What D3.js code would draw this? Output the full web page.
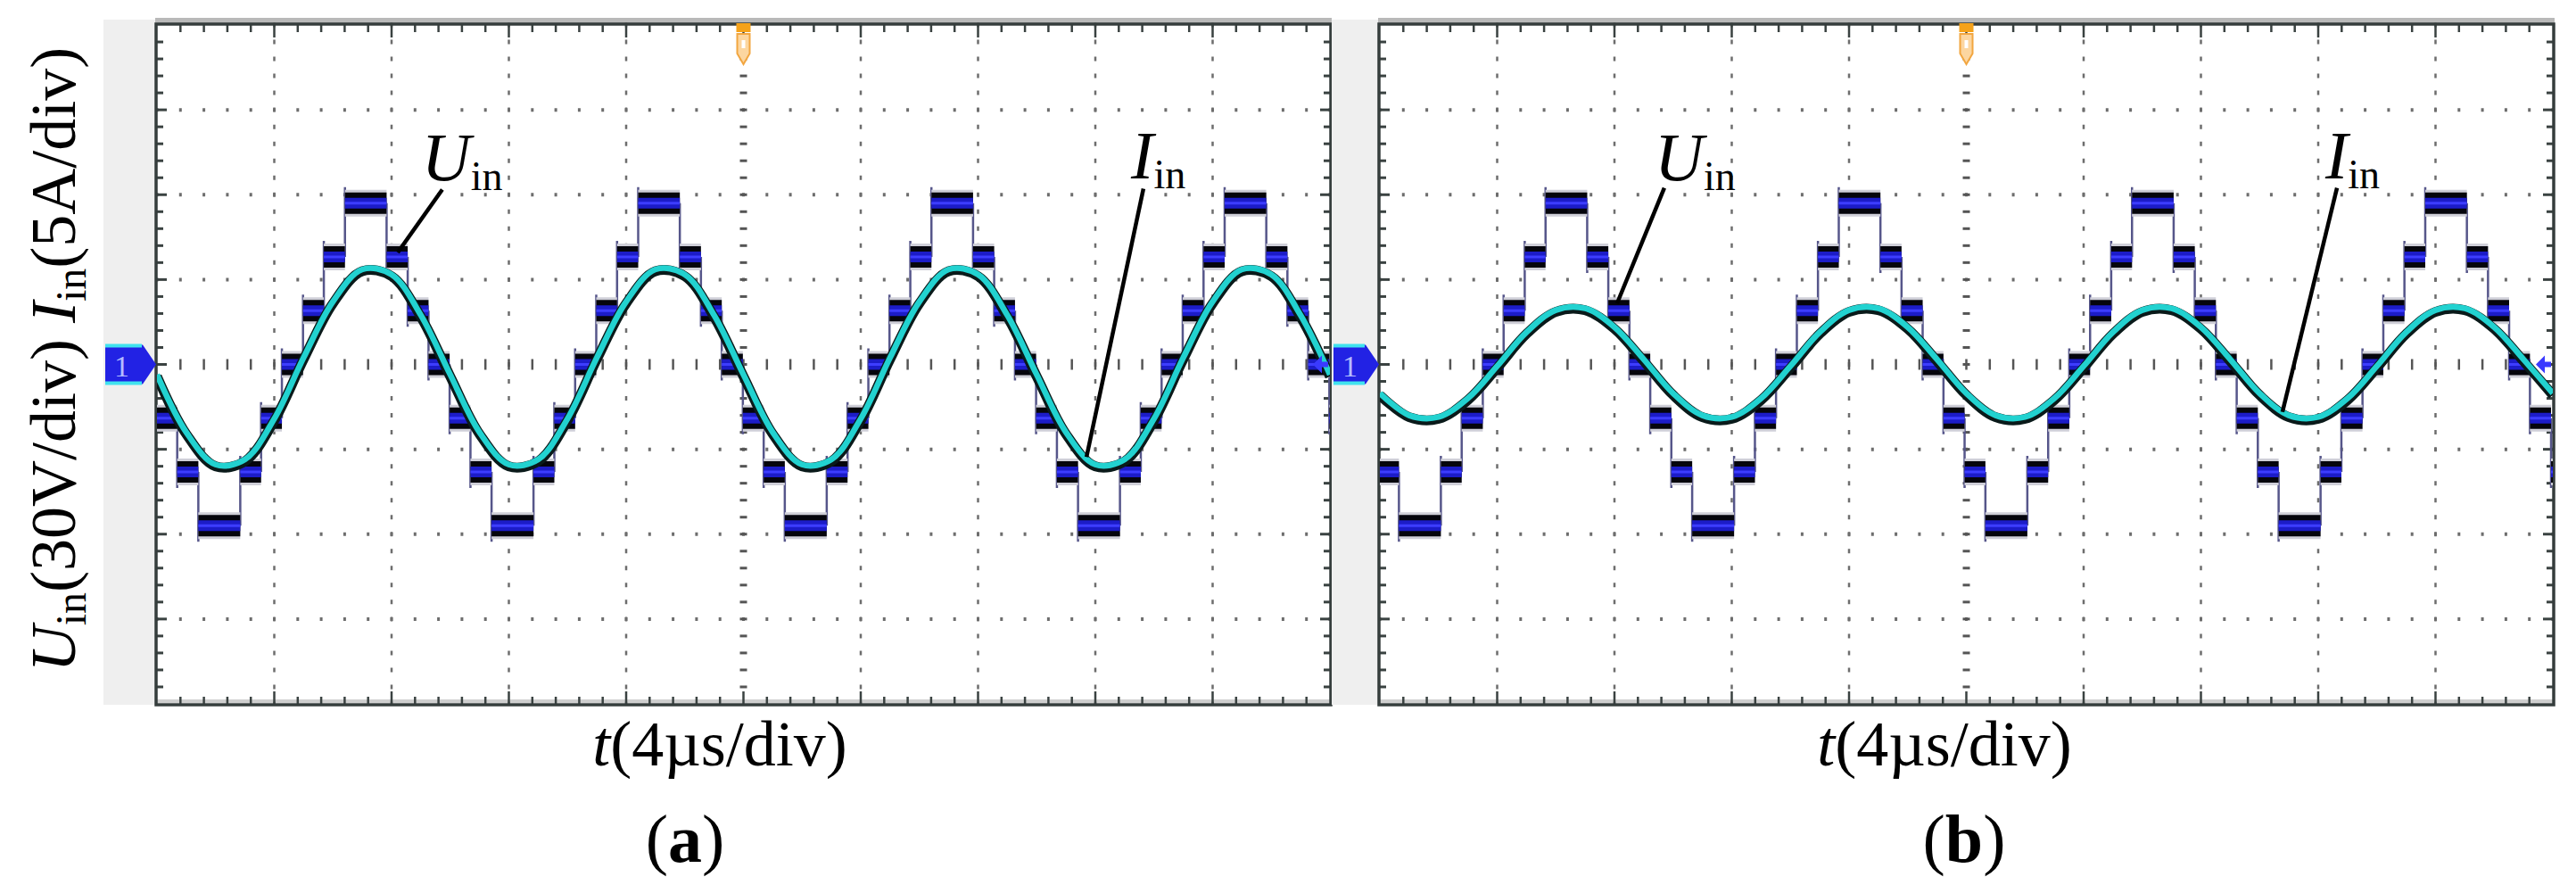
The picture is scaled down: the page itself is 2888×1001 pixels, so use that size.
<!DOCTYPE html>
<html>
<head>
<meta charset="utf-8">
<script src="https://cdn.jsdelivr.net/npm/d3@7"></script>
<style>
  html, body { margin: 0; padding: 0; background: #fff; }
  svg { display: block; }
  text { font-family: "Liberation Serif", "DejaVu Serif", serif; fill: #000; }
</style>
</head>
<body>
<svg id="chart" width="2888" height="1001"></svg>
<script>
// scope screen: 10 div x 4 us, 8 div x 30 V (or 5 A)
var timeSpan = [0, 40];
var voltSpan = [-120, 120];
var ampSpan = [-20, 20];

// staircase input voltage, (a) : switching instants (us) and levels (V)
var stepTimesA = [0, 0.69, 1.41, 2.84, 3.55, 4.26, 4.98, 5.69,
  6.41, 7.83, 8.55, 9.26, 9.98, 10.69, 11.41, 12.84, 13.55, 14.26, 14.98, 15.69,
  16.41, 17.83, 18.55, 19.26, 19.98, 20.69, 21.41, 22.84, 23.55, 24.26, 24.98, 25.69,
  26.41, 27.83, 28.55, 29.26, 29.98, 30.69, 31.41, 32.84, 33.55, 34.26, 34.98, 35.69,
  36.41, 37.83, 38.55, 39.26, 39.98];
var stepVoltsA = [-19, -38, -57, -38, -19, 0, 19, 38,
  57, 38, 19, 0, -19, -38, -57, -38, -19, 0, 19, 38,
  57, 38, 19, 0, -19, -38, -57, -38, -19, 0, 19, 38,
  57, 38, 19, 0, -19, -38, -57, -38, -19, 0, 19, 38,
  57, 38, 19, 0, -19];

// staircase input voltage, (b)
var stepTimesB = [0, 0.65,
  2.08, 2.79, 3.51, 4.22, 4.94, 5.65, 7.07, 7.79, 8.51, 9.22, 9.94, 10.65,
  12.08, 12.79, 13.51, 14.22, 14.94, 15.65, 17.07, 17.79, 18.51, 19.22, 19.94, 20.65,
  22.08, 22.79, 23.51, 24.22, 24.94, 25.65, 27.07, 27.79, 28.51, 29.22, 29.94, 30.65,
  32.08, 32.79, 33.51, 34.22, 34.94, 35.65, 37.07, 37.79, 38.51, 39.22, 39.94];
var stepVoltsB = [-38, -57,
  -38, -19, 0, 19, 38, 57, 38, 19, 0, -19, -38, -57,
  -38, -19, 0, 19, 38, 57, 38, 19, 0, -19, -38, -57,
  -38, -19, 0, 19, 38, 57, 38, 19, 0, -19, -38, -57,
  -38, -19, 0, 19, 38, 57, 38, 19, 0, -19, -38];

// input current samples (A), read every 1 us
var sampleTimes = [0, 1, 2, 3, 4, 5, 6, 7, 8, 9, 10, 11, 12, 13, 14, 15, 16, 17, 18, 19, 20,
  21, 22, 23, 24, 25, 26, 27, 28, 29, 30, 31, 32, 33, 34, 35, 36, 37, 38, 39, 40];
var currentA = [-0.6, -4.0, -5.9, -5.6, -3.2, 0.4, 3.7, 5.6, 5.3, 2.9,
  -0.6, -4.0, -5.9, -5.6, -3.2, 0.4, 3.7, 5.6, 5.3, 2.9,
  -0.6, -4.0, -5.9, -5.6, -3.2, 0.4, 3.7, 5.6, 5.3, 2.9,
  -0.6, -4.0, -5.9, -5.6, -3.2, 0.4, 3.7, 5.6, 5.3, 2.9, -0.6];
var currentB = [-1.7, -3.0, -3.1, -2.0, -0.1, 1.9, 3.2, 3.3, 2.2, 0.3,
  -1.7, -3.0, -3.1, -2.0, -0.1, 1.9, 3.2, 3.3, 2.2, 0.3,
  -1.7, -3.0, -3.1, -2.0, -0.1, 1.9, 3.2, 3.3, 2.2, 0.3,
  -1.7, -3.0, -3.1, -2.0, -0.1, 1.9, 3.2, 3.3, 2.2, 0.3, -1.7];

var axisTitle = '(4µs/div)';
var panelNames = ['a', 'b'];

/*************************************************************************/

function Scope(svg, opts){
    this.svg = svg;
    this.opts = opts;
    this.left = opts.left;
    this.top = 28;
    this.width = 1315;
    this.height = 761;
    this.create();
}

Scope.prototype.create = function(){
    this.xScale = d3.scaleLinear().domain(timeSpan).range([this.left, this.left + this.width]);
    this.yScale = d3.scaleLinear().domain([-4, 4]).range([this.top + this.height, this.top]);
    this.vScale = d3.scaleLinear().domain(voltSpan).range([this.top + this.height, this.top]);
    this.aScale = d3.scaleLinear().domain(ampSpan).range([this.top + this.height, this.top]);

    this.g = this.svg.append('g');
    this.g.append('clipPath').attr('id', 'clip-' + this.opts.name)
        .append('rect')
        .attr('x', this.left).attr('y', this.top)
        .attr('width', this.width).attr('height', this.height);

    this.drawFrame();
    this.drawGrid();
    this.drawTraces();
    this.drawMarkers();
    this.drawNotes();
    this.drawLabels();
}

Scope.prototype.drawFrame = function(){
    var x0 = this.left, y0 = this.top, w = this.width, h = this.height;
    // grey strip holding the channel marker
    this.g.append('rect')
        .attr('x', x0 - this.opts.strip).attr('y', 22)
        .attr('width', this.opts.strip - 2).attr('height', 768)
        .attr('fill', '#efefef');
    this.g.append('rect')
        .attr('x', x0 - 2).attr('y', 20).attr('width', w + 4).attr('height', 6)
        .attr('fill', '#b9b9b9');
    this.g.append('rect')
        .attr('x', x0 - 2).attr('y', y0 + h - 5).attr('width', w + 4).attr('height', 4)
        .attr('fill', '#cfcfcf');
}

Scope.prototype.drawGrid = function(){
    var xs = this.xScale, ys = this.yScale;
    var x0 = this.left, y0 = this.top, w = this.width, h = this.height;
    var grid = this.g.append('g');
    var py = h / 40, px = w / 50;

    var majorT = d3.range(1, 10).map(function(i){ return i * 4; });
    var majorD = [-3, -2, -1, 1, 2, 3];
    var minorT = d3.range(1, 50).map(function(i){ return i * 0.8; });
    var minorD = d3.range(1, 40).map(function(i){ return -4 + i * 0.2; });

    grid.selectAll('.vgrid').data(majorT.filter(function(t){ return t != 20; })).enter().append('line')
        .attr('x1', function(d){ return xs(d); }).attr('x2', function(d){ return xs(d); })
        .attr('y1', y0 - 2.5).attr('y2', y0 + h)
        .attr('stroke', '#6d6d6d').attr('stroke-width', 2.5)
        .attr('stroke-dasharray', '5,' + (py - 5));

    grid.selectAll('.hgrid').data(majorD).enter().append('line')
        .attr('x1', x0 - 1.5).attr('x2', x0 + w)
        .attr('y1', function(d){ return ys(d); }).attr('y2', function(d){ return ys(d); })
        .attr('stroke', '#6d6d6d').attr('stroke-width', 4)
        .attr('stroke-dasharray', '3,' + (px - 3));

    // centre axes with their ticks
    grid.selectAll('.cx').data(minorT).enter().append('line')
        .attr('x1', function(d){ return xs(d); }).attr('x2', function(d){ return xs(d); })
        .attr('y1', ys(0) - 6).attr('y2', ys(0) + 6)
        .attr('stroke', '#555').attr('stroke-width', 2.5);
    grid.selectAll('.cy').data(minorD).enter().append('line')
        .attr('x1', xs(20) - 4).attr('x2', xs(20) + 4)
        .attr('y1', function(d){ return ys(d); }).attr('y2', function(d){ return ys(d); })
        .attr('stroke', '#555').attr('stroke-width', 3);

    // border ticks
    var ticks = this.g.append('g').attr('stroke', '#3a4241');
    [y0, y0 + h].forEach(function(yy, k){
        var s = k == 0 ? 1 : -1;
        ticks.selectAll('.tb' + k).data(minorT).enter().append('line')
            .attr('x1', function(d){ return xs(d); }).attr('x2', function(d){ return xs(d); })
            .attr('y1', yy).attr('y2', function(d){ return yy + s * (d % 4 == 0 ? 14 : 8); })
            .attr('stroke-width', 2.5);
    });
    [x0, x0 + w].forEach(function(xx, k){
        var s = k == 0 ? 1 : -1;
        ticks.selectAll('.tl' + k).data(minorD).enter().append('line')
            .attr('x1', xx).attr('x2', function(d){ return xx + s * (Math.abs(d % 1) < 0.01 ? 11 : 7); })
            .attr('y1', function(d){ return ys(d); }).attr('y2', function(d){ return ys(d); })
            .attr('stroke-width', 3);
    });

    this.g.append('rect')
        .attr('x', x0 - 1).attr('y', y0 - 1).attr('width', w + 2).attr('height', h + 2)
        .attr('fill', 'none').attr('stroke', '#353d3c').attr('stroke-width', 3.5);
}

/*************************************************************************/

Scope.prototype.drawTraces = function(){
    var xs = this.xScale, vs = this.vScale, as = this.aScale;
    var times = this.opts.steps[0], volts = this.opts.steps[1];
    var layer = this.g.append('g').attr('clip-path', 'url(#clip-' + this.opts.name + ')');

    var segs = times.map(function(t, i){
        return { t0: t, t1: i + 1 < times.length ? times[i + 1] : timeSpan[1], v: volts[i], p: i > 0 ? volts[i - 1] : volts[i] };
    });

    // thin switching edges with a small overshoot
    layer.selectAll('.edge').data(segs.slice(1)).enter().append('line')
        .attr('x1', function(d){ return xs(d.t0); }).attr('x2', function(d){ return xs(d.t0); })
        .attr('y1', function(d){ return vs(d.p); })
        .attr('y2', function(d){ return vs(d.v) + (d.v > d.p ? -18 : 18); })
        .attr('stroke', '#56568a').attr('stroke-width', 2.5);

    var bands = [
        { c: '#cfcfd8', w: 30 },
        { c: '#05050c', w: 24 },
        { c: '#1c1cc8', w: 12 },
        { c: '#3d3dff', w: 3 }
    ];
    bands.forEach(function(b){
        layer.append('g').selectAll('line').data(segs).enter().append('line')
            .attr('x1', function(d){ return xs(d.t0); }).attr('x2', function(d){ return xs(d.t1); })
            .attr('y1', function(d){ return vs(d.v); }).attr('y2', function(d){ return vs(d.v); })
            .attr('stroke', b.c).attr('stroke-width', b.w);
    });

    var pts = sampleTimes.map(function(t, i){ return [t, this.opts.current[i]]; }, this);
    var lineGen = d3.line()
        .x(function(d){ return xs(d[0]); })
        .y(function(d){ return as(d[1]); })
        .curve(d3.curveCatmullRom.alpha(0.5));

    layer.append('path').attr('d', lineGen(pts))
        .attr('transform', 'translate(0,2)')
        .attr('fill', 'none').attr('stroke', '#0a1a1a').attr('stroke-width', 11);
    layer.append('path').attr('d', lineGen(pts))
        .attr('fill', 'none').attr('stroke', '#22d2d0').attr('stroke-width', 6.5);
}

Scope.prototype.drawMarkers = function(){
    var x0 = this.left, cy = this.yScale(0), sx = x0 - this.opts.strip + 2;
    var right = this.left + this.width;

    // channel 1 ground marker
    this.g.append('path')
        .attr('d', 'M' + sx + ',' + (cy - 22) + 'H' + (x0 - 16) + 'L' + (x0 - 1) + ',' + cy +
                   'L' + (x0 - 16) + ',' + (cy + 22) + 'H' + sx + 'Z')
        .attr('fill', '#2222e4');
    [cy - 21, cy + 21].forEach(function(yy){
        this.g.append('line').attr('x1', sx).attr('x2', x0 - 17)
            .attr('y1', yy).attr('y2', yy)
            .attr('stroke', '#40e2ee').attr('stroke-width', 4);
    }, this);
    this.g.append('text').attr('x', sx + 10).attr('y', cy + 13)
        .attr('font-family', 'DejaVu Sans').attr('font-size', 34)
        .attr('fill', '#b4bcff').style('fill', '#b4bcff').text('1');

    // small arrow on the right edge
    this.g.append('path')
        .attr('d', 'M' + (right - 19) + ',' + cy + 'L' + (right - 9) + ',' + (cy - 10) +
                   'V' + (cy - 3) + 'H' + (right - 2) + 'V' + (cy + 3) + 'H' + (right - 9) +
                   'V' + (cy + 10) + 'Z')
        .attr('fill', '#3a3aff');

    // trigger position
    var tx = this.xScale(20);
    this.g.append('rect').attr('x', tx - 8).attr('y', 26).attr('width', 16).attr('height', 10)
        .attr('fill', '#f5a21a');
    this.g.append('path')
        .attr('d', 'M' + (tx - 7) + ',38H' + (tx + 7) + 'V60L' + tx + ',72L' + (tx - 7) + ',60Z')
        .attr('fill', '#fcd6a0').attr('stroke', '#f2a640').attr('stroke-width', 2);
    this.g.append('rect').attr('x', tx - 2).attr('y', 45).attr('width', 4).attr('height', 9)
        .attr('fill', '#fff');
}

/*************************************************************************/

Scope.prototype.drawNotes = function(){
    var xs = this.xScale, ys = this.yScale;
    this.opts.notes.forEach(function(n){
        this.g.append('line')
            .attr('x1', xs(n.from[0])).attr('y1', ys(n.from[1]))
            .attr('x2', xs(n.to[0])).attr('y2', ys(n.to[1]))
            .attr('stroke', '#000').attr('stroke-width', 4.5);
        var t = this.g.append('text')
            .attr('x', xs(n.at[0])).attr('y', ys(n.at[1]))
            .attr('font-size', 76);
        t.append('tspan').attr('font-style', 'italic').text(n.sym);
        t.append('tspan').attr('font-size', 46).attr('dy', 11).text('in');
    }, this);
}

Scope.prototype.drawLabels = function(){
    var t = this.svg.append('text')
        .attr('x', this.opts.titleX).attr('y', 858)
        .attr('text-anchor', 'middle').attr('font-size', 72);
    t.append('tspan').attr('font-style', 'italic').text('t');
    t.append('tspan').text(axisTitle);

    var p = this.svg.append('text')
        .attr('x', this.opts.panelX).attr('y', 966)
        .attr('text-anchor', 'middle').attr('font-size', 76);
    p.append('tspan').text('(');
    p.append('tspan').attr('font-weight', 'bold').text(this.opts.name);
    p.append('tspan').text(')');
}

/*************************************************************************/

var svg = d3.select('#chart');

// note anchors in (us, div)
var scopeA = new Scope(svg, {
    name: panelNames[0], left: 176, strip: 60, titleX: 807, panelX: 768,
    steps: [stepTimesA, stepVoltsA], current: currentA,
    notes: [
        { sym: 'U', at: [9.03, 2.17], from: [9.73, 2.06], to: [8.21, 1.32] },
        { sym: 'I', at: [33.22, 2.19], from: [33.64, 2.07], to: [31.70, -1.09] }
    ]
});
var scopeB = new Scope(svg, {
    name: panelNames[1], left: 1547, strip: 54, titleX: 2180, panelX: 2202,
    steps: [stepTimesB, stepVoltsB], current: currentB,
    notes: [
        { sym: 'U', at: [9.37, 2.17], from: [9.70, 2.08], to: [8.09, 0.72] },
        { sym: 'I', at: [32.24, 2.19], from: [32.64, 2.08], to: [30.78, -0.56] }
    ]
});

// shared y title
var yl = svg.append('text')
    .attr('transform', 'translate(84,403) rotate(-90)')
    .attr('text-anchor', 'middle').attr('font-size', 72);
yl.append('tspan').attr('font-style', 'italic').text('U');
yl.append('tspan').attr('font-size', 48).attr('dy', 12).text('in');
yl.append('tspan').attr('dy', -12).text('(30V/div)\u00a0');
yl.append('tspan').attr('font-style', 'italic').text('I');
yl.append('tspan').attr('font-size', 48).attr('dy', 12).text('in');
yl.append('tspan').attr('dy', -12).text('(5A/div)');
</script>
</body>
</html>
